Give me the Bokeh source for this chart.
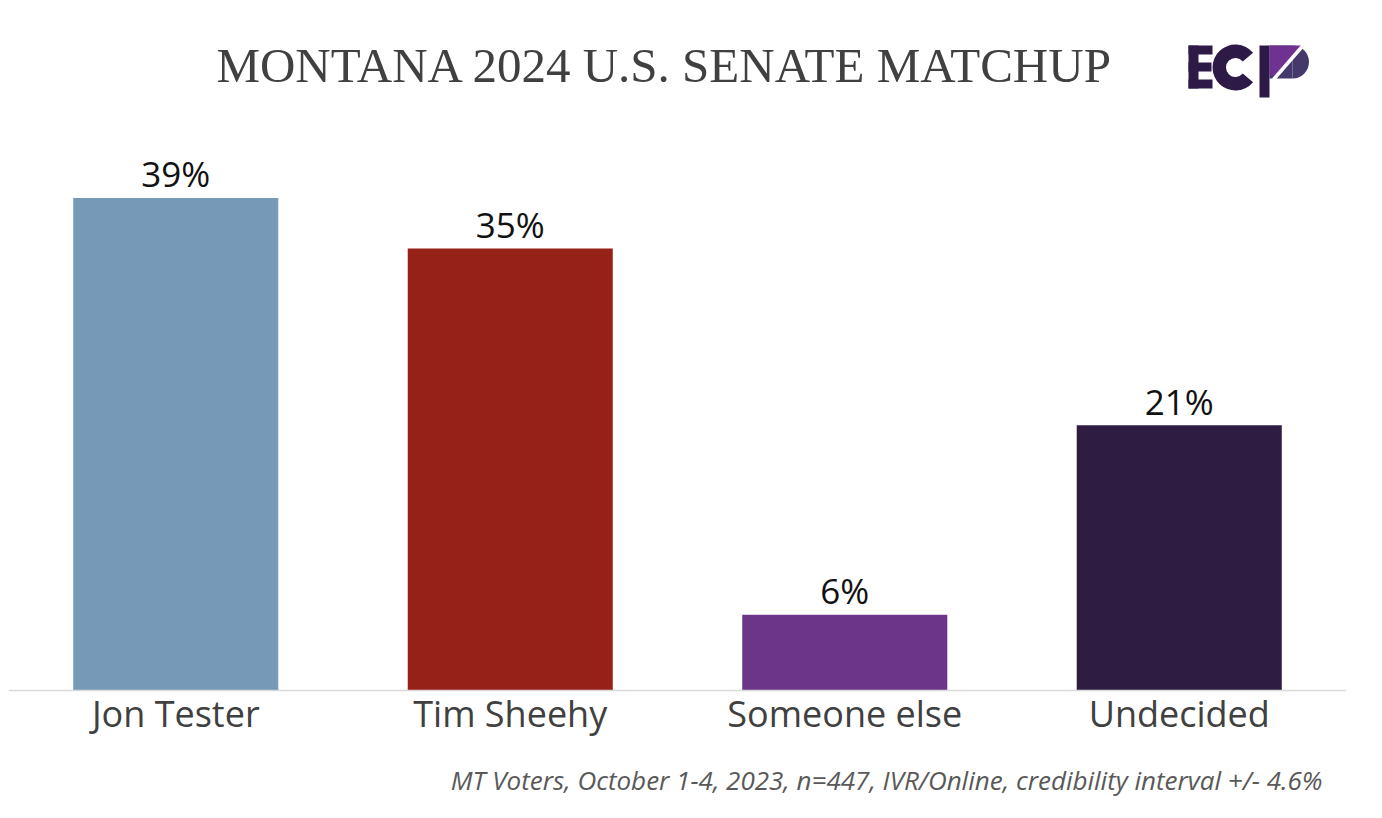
import math
from bokeh.plotting import figure
from bokeh.models import FactorRange, Range1d, ColumnDataSource, Span, Label
from bokeh.embed import file_html
from bokeh.resources import INLINE
from bokeh.core.properties import value

# ---------------- data ----------------
categories = ["Jon Tester", "Tim Sheehy", "Someone else", "Undecided"]
shares = [39, 35, 6, 21]
share_labels = ["39%", "35%", "6%", "21%"]
bar_colors = ["#7599b7", "#962119", "#6c3589", "#2e1c42"]

TITLE = "MONTANA 2024 U.S. SENATE MATCHUP"
NOTE = "MT Voters, October 1-4, 2023, n=447, IVR/Online, credibility interval +/- 4.6%"

# ---------------- layout helpers ----------------
W, H = 1366, 802
LEFT = 8
FRAME_W = 1338
BASE_Y = 690          # pixel row of the zero line
PX_PER = 12.63        # pixels per percentage point
CAT_PX = FRAME_W / len(categories)
BL = 0.4              # baseline correction (fraction of font size)


def dx(px):
    return (px - LEFT) / CAT_PX


def dy(py):
    return (BASE_Y - py) / PX_PER


p = figure(width=W, height=H,
           x_range=FactorRange(factors=categories, range_padding=0),
           y_range=Range1d(dy(H), dy(0)),
           output_backend="svg", toolbar_location=None,
           x_axis_location=None, y_axis_location=None,
           min_border_left=LEFT, min_border_right=W - LEFT - FRAME_W,
           min_border_top=0, min_border_bottom=0,
           background_fill_color="white", border_fill_color="white",
           outline_line_color=None)
p.xgrid.visible = False
p.ygrid.visible = False

src = ColumnDataSource(dict(cat=categories, share=shares, label=share_labels, color=bar_colors))

p.vbar(x="cat", top="share", bottom=0, width=0.613, fill_color="color", line_color=None, source=src)
p.add_layout(Span(location=0, dimension="width", line_color="#d9d9d9", line_width=1.5))

# value labels
VS = 35
p.text(x="cat", y="share", text="label", source=src, text_align="center",
       text_baseline="alphabetic", y_offset=-10 - BL * VS, text_font=value("Open Sans"),
       text_font_size=f"{VS}px", text_color="#111111")

# category labels
CS = 36
p.text(x="cat", y=0, text="cat", source=src, text_align="center",
       text_baseline="alphabetic", y_offset=37 - BL * CS, text_font=value("Open Sans"),
       text_font_size=f"{CS}px", text_color="#404040")

# title
TS = 49
p.add_layout(Label(x=dx(664.5), y=dy(85 - BL * TS), text=TITLE, text_align="center",
                   text_baseline="alphabetic", text_font="Liberation Serif",
                   text_font_size=f"{TS}px", text_color="#404040"))

# footnote
FS = 26
p.add_layout(Label(x=dx(1322), y=dy(790 - BL * FS), text=NOTE, text_align="right",
                   text_baseline="alphabetic", text_font="Open Sans", text_font_style="italic",
                   text_font_size=f"{FS}px", text_color="#595959"))

# ---------------- logo (ECP) ----------------
DARK = "#2d1a46"
PURP = "#6f3291"
BOWL = "#45396b"


def box(l, r, t, b, c):
    p.quad(left=dx(l), right=dx(r), top=dy(t), bottom=dy(b), fill_color=c, line_color=None)


# E
box(1188, 1198, 45, 88, DARK)
box(1188, 1212, 45, 54, DARK)
box(1188, 1211, 62, 71, DARK)
box(1188, 1212, 79, 88, DARK)
# C
p.annular_wedge(x=dx(1235), y=dy(67), inner_radius=9.5, outer_radius=23,
                inner_radius_units="screen", outer_radius_units="screen",
                start_angle=0.7, end_angle=2 * math.pi - 0.7,
                fill_color=DARK, line_color=None)
# P stem
box(1259, 1269, 45, 97, DARK)
# P bowl
box(1269, 1292, 45, 78, BOWL)
p.wedge(x=dx(1292), y=dy(61.5), radius=16.5, radius_units="screen",
        start_angle=-math.pi / 2, end_angle=math.pi / 2, fill_color=BOWL, line_color=None)
p.patch(x=[dx(1269), dx(1301), dx(1276), dx(1269)],
        y=[dy(45), dy(45), dy(75), dy(75)], fill_color=PURP, line_color=None)
p.line(x=[dx(1273), dx(1306)], y=[dy(79), dy(41)], line_color="white", line_width=3.5)

open("out.html", "w").write(file_html(p, INLINE))
